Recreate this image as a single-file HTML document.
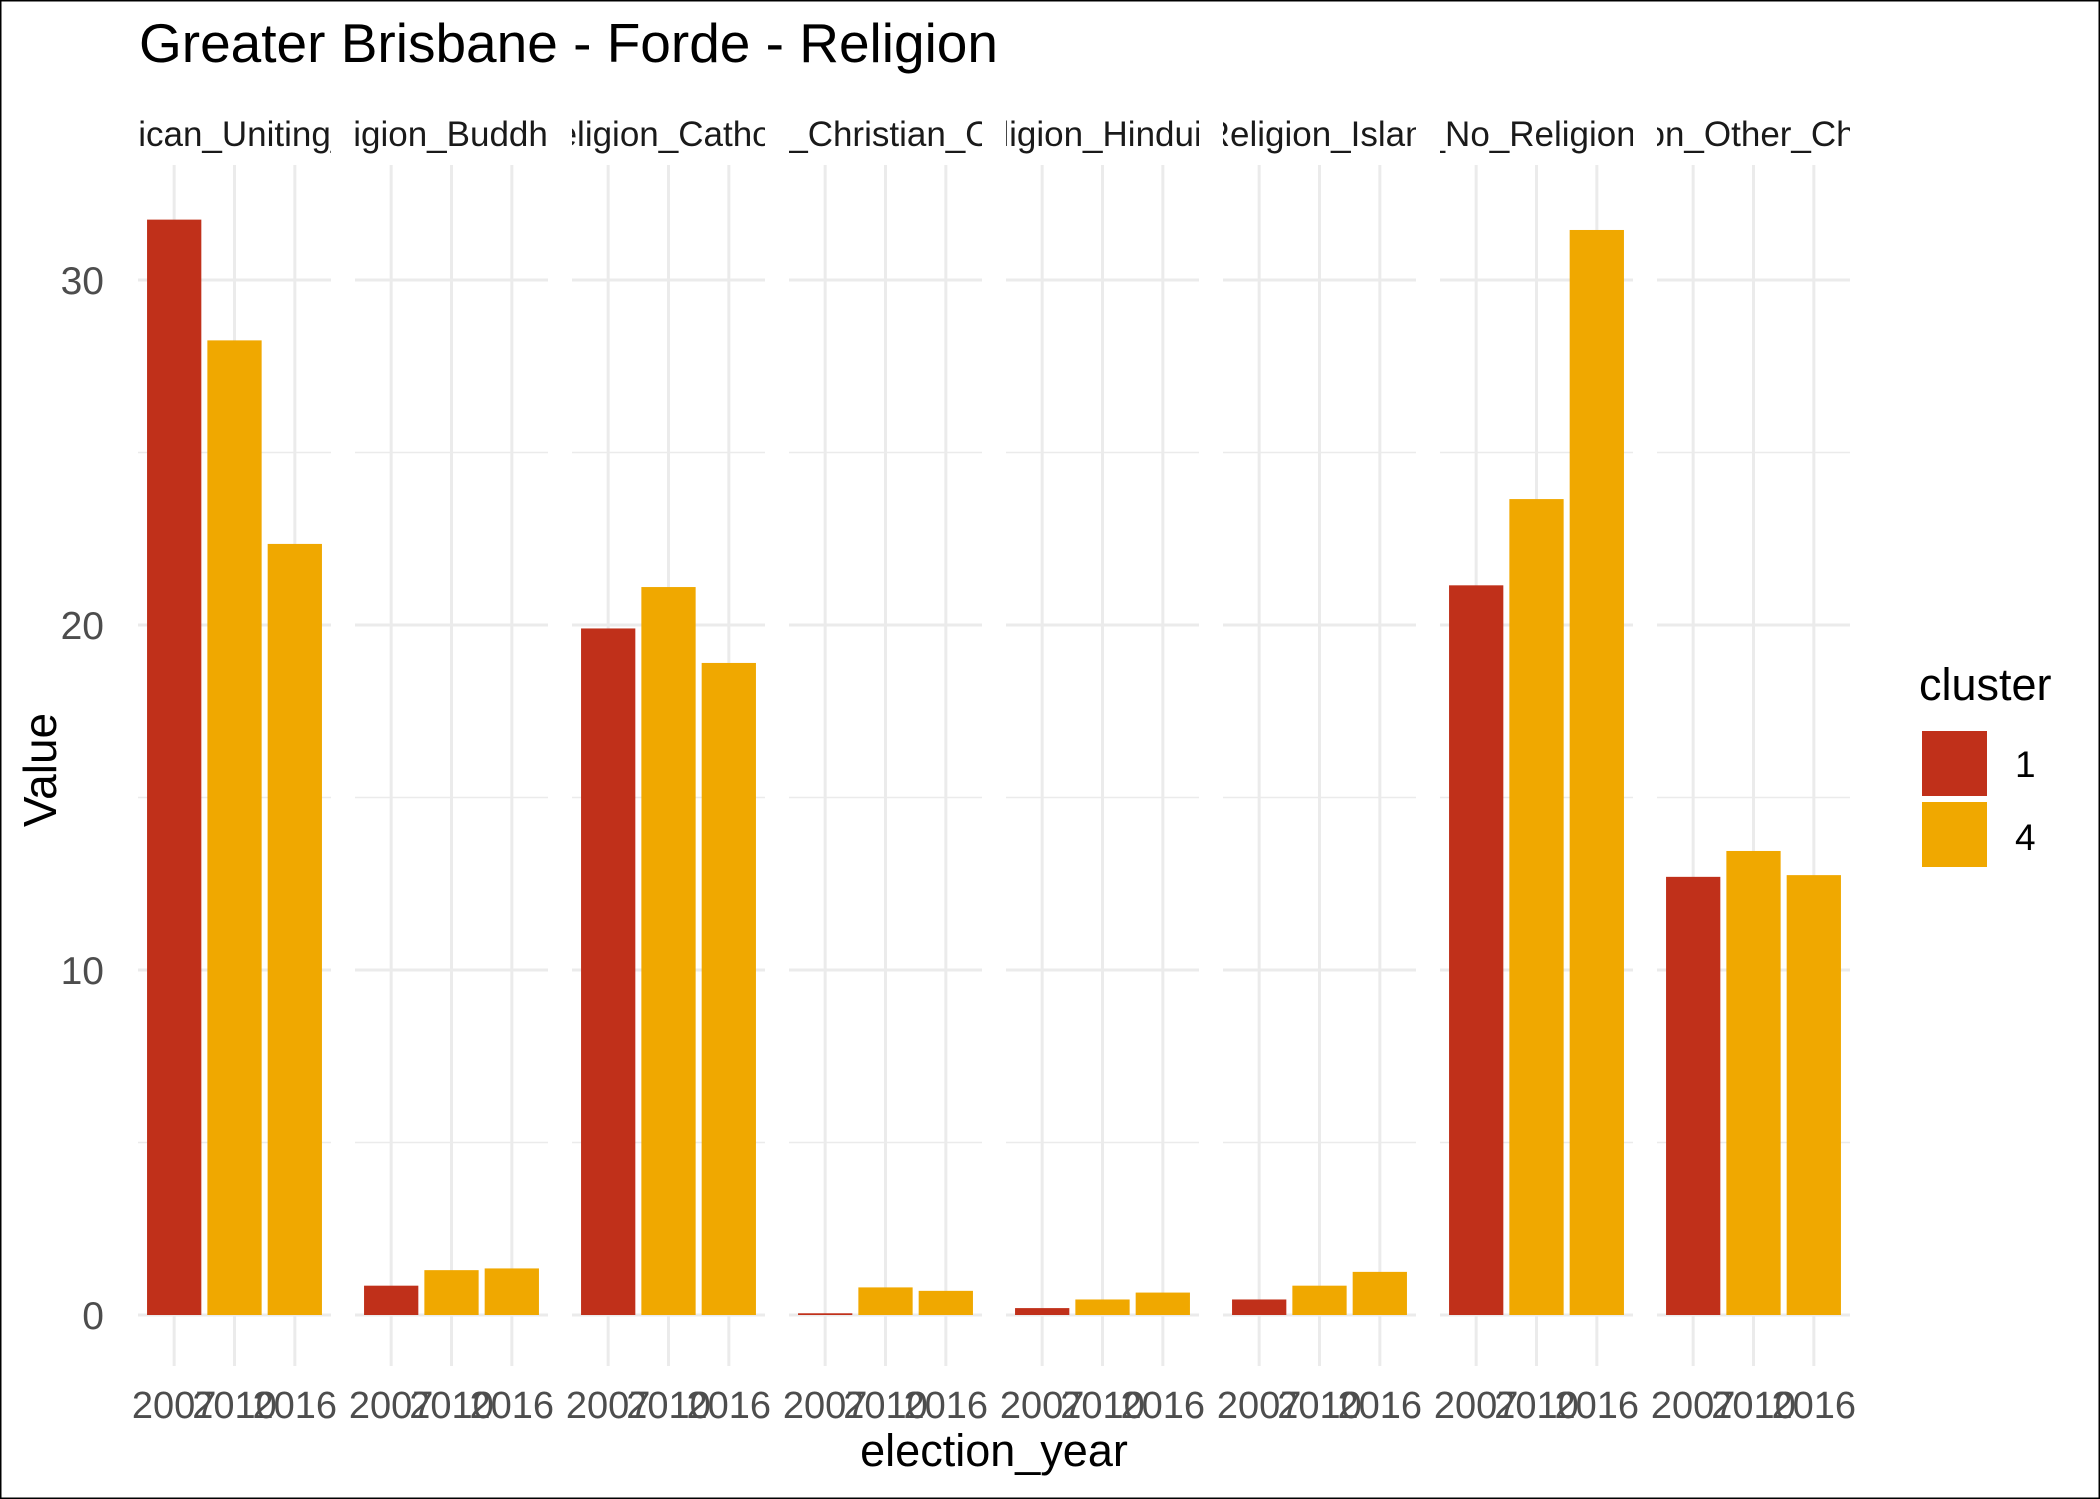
<!DOCTYPE html>
<html><head><meta charset="utf-8"><style>
html,body{margin:0;padding:0;background:#fff}
svg{display:block;font-family:"Liberation Sans",Arial,sans-serif}
</style></head><body>
<svg id="chart" width="2100" height="1499" viewBox="0 0 2100 1499" xmlns="http://www.w3.org/2000/svg">
<rect x="0.5" y="0.5" width="2099" height="1498" fill="#fff" stroke="#000" stroke-width="2"/>
<text x="139" y="62" font-size="55" fill="#000">Greater Brisbane - Forde - Religion</text>
<g id="panels"></g>
<text x="40" y="770" font-size="46" fill="#000" transform="rotate(-90 40 770)" text-anchor="middle" dominant-baseline="central">Value</text>
<text x="994" y="1466" font-size="45" fill="#000" text-anchor="middle">election_year</text>
<g>
<text x="1919" y="700" font-size="45" fill="#000">cluster</text>
<rect x="1922" y="731" width="65" height="65" fill="#C0301A"/>
<text x="2015" y="777" font-size="37" fill="#000">1</text>
<rect x="1922" y="802" width="65" height="65" fill="#F0A800"/>
<text x="2015" y="850" font-size="37" fill="#000">4</text>
</g>
</svg>
<script>
const facets = ["Religion_Anglican_Uniting_Presbyterian","Religion_Buddhism","Religion_Catholic","Religion_Christian_Orthodox","Religion_Hinduism","Religion_Islam","Religion_No_Religion_Secular","Religion_Other_Christian"];
const years = ["2007","2010","2016"];
const clusters = ["1","4","4"];
const values = [
  [31.75, 28.25, 22.35],
  [0.85, 1.3, 1.35],
  [19.9, 21.1, 18.9],
  [0.05, 0.8, 0.7],
  [0.2, 0.45, 0.65],
  [0.45, 0.85, 1.25],
  [21.15, 23.65, 31.45],
  [12.7, 13.45, 12.75]
];
const yTicks = [0, 10, 20, 30];
const yMinor = [5, 15, 25];
const colors = {"1":"#C0301A","4":"#F0A800"};

const NS = "http://www.w3.org/2000/svg";
const panelsG = document.getElementById("panels");
const svg = document.getElementById("chart");
const plotTop = 165, plotBottom = 1366;
const panelLeft0 = 138, panelStep = 217, panelW = 193;
const y = v => 1315 - v * 34.5;
const x = (p, i) => panelLeft0 + p * panelStep + (i + 1 - 0.4) * (panelW / 3.2);
const bw = 0.9 * panelW / 3.2;
function mk(tag, attrs, parent) {
  const el = document.createElementNS(NS, tag);
  for (const k in attrs) el.setAttribute(k, attrs[k]);
  parent.appendChild(el);
  return el;
}
const defs = mk("defs", {}, svg);
yTicks.forEach(t => {
  const tx = mk("text", {x: 104, y: y(t) + 14, "font-size": 39, fill: "#4d4d4d", "text-anchor": "end"}, svg);
  
  
  tx.textContent = t;
});
facets.forEach((f, p) => {
  const left = panelLeft0 + p * panelStep;
  const g = mk("g", {}, panelsG);
  
  
  yMinor.forEach(t => {
    const l = mk("line", {x1: left, x2: left + panelW, y1: y(t), y2: y(t), stroke: "#EBEBEB", "stroke-width": 1.5}, g);
    
    
  });
  yTicks.forEach(t => {
    const l = mk("line", {x1: left, x2: left + panelW, y1: y(t), y2: y(t), stroke: "#EBEBEB", "stroke-width": 3}, g);
    
    
  });
  years.forEach((yr, i) => {
    const l = mk("line", {x1: x(p, i), x2: x(p, i), y1: plotTop, y2: plotBottom, stroke: "#EBEBEB", "stroke-width": 3}, g);
    
    
  });
  values[p].forEach((v, i) => {
    const r = mk("rect", {x: x(p, i) - bw / 2, y: y(v), width: bw, height: Math.max(y(0) - y(v), 0.5), fill: colors[clusters[i]]}, g);
    
    
  });
  years.forEach((yr, i) => {
    const t = mk("text", {x: x(p, i), y: 1418, "font-size": 38, fill: "#4d4d4d", "text-anchor": "middle"}, g);
    
    
    t.textContent = yr;
  });
  const cp = mk("clipPath", {id: "clip" + p}, defs);
  mk("rect", {x: left, y: 90, width: panelW, height: 70}, cp);
  const st = mk("text", {x: left + panelW / 2, y: 146, "font-size": 35, fill: "#1a1a1a", "text-anchor": "middle", "clip-path": "url(#clip" + p + ")"}, g);
  
  
  st.textContent = f;
});
</script>
</body></html>
